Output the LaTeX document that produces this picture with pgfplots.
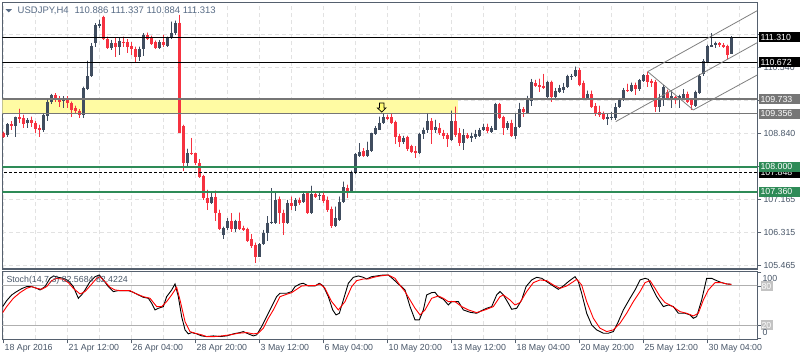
\documentclass[border=0pt]{standalone}
\usepackage{pgfplots}
\pgfplotsset{compat=1.18}
\usepackage{pgfplotstable}
\usepackage{fontspec}
\setmainfont{Liberation Sans}
\definecolor{bull}{RGB}{64,77,95}
\definecolor{bear}{RGB}{246,50,64}
\definecolor{gridc}{RGB}{226,226,226}
\definecolor{framec}{RGB}{85,96,110}
\definecolor{lbl}{RGB}{72,86,104}
\definecolor{hdr}{RGB}{88,108,134}
\definecolor{sgreen}{RGB}{46,139,87}
\definecolor{band}{RGB}{255,251,163}
\definecolor{lgrey}{RGB}{118,118,118}
\definecolor{chan}{RGB}{128,128,128}
\definecolor{stl}{RGB}{175,175,175}
\definecolor{stbox}{RGB}{195,195,195}
\newcommand\lf{\fontsize{8.8}{10}\selectfont}
\newcommand\hf{\fontsize{9.5}{11}\selectfont}
\pgfplotsset{candle/.style={only marks, mark=*, mark size=0.01pt, mark options={draw=none, fill=none}}}

\pgfplotstableread{
i o h l c
1 108.81 109.11 108.76 109.09
3 109.05 109.28 108.77 109.27
6 109.11 109.24 108.99 109.21
10 108.93 109.37 108.90 109.33
11 109.31 109.71 109.16 109.67
12 109.65 109.86 109.61 109.84
15 109.69 109.80 109.50 109.74
20 109.33 110.05 109.24 110.01
21 110.00 110.71 109.97 110.32
22 110.31 111.16 110.29 111.10
23 111.16 111.67 111.07 111.63
24 111.61 111.76 111.54 111.64
27 111.03 111.24 110.99 111.16
29 111.07 111.29 110.86 111.23
34 110.82 111.07 110.71 111.01
35 111.01 111.41 110.83 111.37
39 111.04 111.24 111.01 111.18
41 111.09 111.33 111.07 111.29
42 111.29 111.71 111.26 111.43
43 111.41 111.74 111.37 111.67
46 108.09 108.46 107.96 108.35
52 107.08 107.32 107.05 107.24
55 106.26 106.47 106.15 106.43
56 106.43 106.68 106.38 106.62
58 106.40 106.64 106.34 106.62
64 105.70 106.04 105.69 106.03
65 106.03 106.38 106.00 106.30
66 106.30 106.73 106.11 106.57
67 106.57 107.45 106.55 106.60
68 106.57 107.32 106.55 107.15
71 106.57 107.15 106.54 107.08
73 107.00 107.19 106.88 107.15
75 107.11 107.37 107.08 107.30
77 106.81 107.51 106.79 107.30
79 107.25 107.37 107.15 107.28
83 106.49 106.98 106.47 106.68
84 106.64 107.24 106.62 107.11
85 107.11 107.62 107.08 107.48
87 107.37 107.90 107.34 107.88
88 107.85 108.35 107.82 108.32
89 108.28 108.60 108.26 108.39
91 108.28 108.64 108.26 108.43
92 108.41 108.87 108.39 108.86
93 108.84 109.04 108.81 108.99
94 108.94 109.28 108.93 109.13
95 109.13 109.37 109.10 109.28
100 108.64 108.79 108.58 108.73
104 108.36 108.86 108.33 108.83
105 108.83 109.00 108.70 108.94
106 108.93 109.37 108.87 109.18
108 108.93 109.20 108.87 109.03
112 108.69 109.44 108.67 109.17
115 108.60 108.96 108.43 108.81
117 108.73 108.87 108.64 108.79
118 108.77 108.94 108.70 108.83
119 108.79 108.99 108.77 108.94
120 108.93 109.10 108.91 109.03
122 108.90 109.04 108.87 108.99
123 108.94 109.63 108.93 109.61
126 109.00 109.16 108.94 109.11
128 108.79 109.37 108.70 109.03
129 109.01 109.63 108.98 109.48
131 109.37 109.81 109.35 109.71
132 109.69 110.24 109.56 110.18
136 109.79 110.20 109.75 110.18
138 109.79 110.01 109.77 109.95
139 109.92 110.09 109.88 110.01
140 109.97 110.14 109.90 110.05
141 110.03 110.35 110.01 110.31
142 110.29 110.37 110.22 110.32
143 110.32 110.56 110.29 110.48
146 109.75 109.95 109.73 109.85
151 109.22 109.34 109.07 109.27
152 109.24 109.39 109.20 109.28
153 109.24 109.62 109.20 109.52
154 109.52 109.75 109.50 109.71
155 109.71 110.01 109.69 109.97
157 109.95 110.15 109.92 110.09
159 109.98 110.24 109.95 110.22
160 110.20 110.37 110.18 110.35
164 109.54 109.86 109.39 109.77
165 109.74 110.09 109.56 110.05
167 109.74 109.95 109.50 109.80
169 109.73 109.84 109.50 109.80
170 109.77 109.98 109.73 109.85
173 109.56 109.95 109.52 109.92
174 109.90 110.37 109.86 110.32
175 110.37 110.75 110.32 110.71
176 110.69 111.12 110.66 111.09
177 111.07 111.41 111.06 111.12
178 111.12 111.20 111.03 111.16
182 110.886 111.337 110.884 111.313
}\bulltab

\pgfplotstableread{
i o h l c
0 108.87 108.90 108.73 108.77
2 109.09 109.16 108.94 109.05
4 109.27 109.48 109.11 109.23
5 109.25 109.33 108.99 109.10
7 109.20 109.28 109.03 109.11
8 109.12 109.16 108.86 108.96
9 109.00 109.07 108.76 108.93
13 109.84 109.88 109.67 109.71
14 109.74 109.80 109.54 109.67
16 109.75 109.80 109.50 109.62
17 109.62 109.67 109.28 109.45
18 109.51 109.56 109.37 109.43
19 109.43 109.47 109.24 109.33
25 111.84 111.86 111.24 111.26
26 111.26 111.33 111.01 111.03
28 111.16 111.29 110.82 111.07
30 111.20 111.33 111.07 111.18
31 111.18 111.26 110.92 111.07
32 111.09 111.18 110.86 111.01
33 111.01 111.07 110.66 110.82
36 111.37 111.43 111.24 111.28
37 111.29 111.35 111.12 111.15
38 111.18 111.23 111.01 111.04
40 111.18 111.37 111.07 111.11
44 111.69 111.88 108.86 108.87
45 109.04 109.07 107.90 108.11
47 108.35 108.73 108.30 108.32
48 108.35 108.36 108.05 108.09
49 108.09 108.19 107.71 107.75
50 107.77 107.79 107.15 107.19
51 107.19 107.41 106.90 107.08
53 107.24 107.39 106.62 106.81
54 106.83 106.90 106.38 106.40
57 106.62 106.81 106.34 106.40
59 106.62 106.83 106.38 106.40
60 106.43 106.49 106.36 106.38
61 106.40 106.44 106.09 106.11
62 106.15 106.27 105.92 105.98
63 106.00 106.06 105.55 105.70
69 107.17 107.24 106.54 106.81
70 106.83 106.90 106.26 106.57
72 107.08 107.24 106.90 107.00
74 107.15 107.21 107.02 107.07
76 107.32 107.37 106.79 106.81
78 107.30 107.37 107.19 107.24
80 107.28 107.34 107.07 107.13
81 107.15 107.24 106.85 106.90
82 106.91 106.98 106.43 106.49
86 107.45 107.54 107.19 107.37
90 108.40 108.47 108.26 108.28
96 109.28 109.33 109.21 109.23
97 109.27 109.35 109.10 109.13
98 109.15 109.18 108.58 108.77
99 108.79 108.84 108.50 108.64
101 108.75 108.79 108.41 108.45
102 108.52 108.56 108.35 108.39
103 108.41 108.52 108.22 108.36
107 109.18 109.24 108.58 108.93
109 109.00 109.11 108.81 108.86
110 108.87 108.94 108.70 108.79
111 108.81 108.86 108.50 108.70
113 109.17 109.54 108.77 108.81
114 108.86 108.99 108.53 108.62
116 108.81 108.86 108.70 108.73
121 109.03 109.10 108.87 108.91
124 109.61 109.63 109.22 109.24
125 109.27 109.30 108.81 109.00
127 109.11 109.20 108.77 108.79
130 109.48 109.52 109.28 109.39
133 110.14 110.22 110.03 110.07
134 110.09 110.25 109.92 110.05
135 110.07 110.37 109.98 110.01
137 110.18 110.20 109.67 109.78
144 110.48 110.52 110.07 110.09
145 110.15 110.20 109.73 109.75
147 109.85 109.95 109.50 109.54
148 109.56 109.62 109.30 109.37
149 109.41 109.56 109.28 109.33
150 109.35 109.41 109.20 109.22
156 109.97 110.12 109.92 109.94
158 110.09 110.15 109.84 109.98
161 110.35 110.43 110.03 110.18
162 110.20 110.24 110.03 110.15
163 110.18 110.22 109.39 109.54
166 109.92 109.97 109.71 109.74
168 109.78 109.81 109.61 109.71
171 109.85 109.92 109.62 109.67
172 109.71 109.73 109.45 109.58
179 111.16 111.18 111.07 111.12
180 111.12 111.16 111.03 111.06
181 111.10 111.12 110.75 110.86
}\beartab

\pgfplotstableread{
x y
-0.16 48.5
0.84 57.6
2.09 66.3
3.34 71.4
4.59 75.9
5.84 79.0
7.09 79.0
8.34 76.4
9.18 73.9
10.43 79.0
11.68 91.7
12.51 95.3
13.76 93.2
15.01 91.7
16.26 88.1
17.51 79.0
18.76 61.2
19.59 66.3
20.43 73.9
21.68 86.6
22.93 94.2
24.01 96.8
25.01 89.2
26.26 79.0
27.51 71.4
28.76 72.9
30.01 72.9
31.26 72.9
32.51 70.3
33.76 66.3
35.01 62.7
36.26 61.2
37.09 53.6
37.93 43.4
38.76 45.9
40.01 48.5
40.84 63.7
42.09 73.9
42.93 83.1
43.76 63.7
44.59 33.2
45.43 12.9
46.26 6.8
47.09 8.8
48.34 6.8
49.59 3.7
50.84 2.7
52.51 3.7
54.18 2.7
55.84 3.7
57.51 6.8
59.18 8.8
60.01 10.3
61.26 6.8
62.51 3.7
63.34 5.3
64.59 18.0
65.84 33.2
67.09 48.5
68.34 63.7
69.18 68.8
70.84 68.8
72.09 71.4
72.93 79.0
74.18 83.1
75.01 84.1
76.26 80.0
77.93 80.0
79.01 84.1
80.01 80.0
81.26 63.7
82.34 43.4
83.18 35.8
84.01 38.3
85.01 58.6
86.26 84.1
87.51 93.2
88.76 95.3
90.01 93.2
90.84 90.7
92.09 94.2
93.34 95.3
95.01 96.8
96.26 96.8
97.51 90.2
98.76 83.0
99.6 79.0
100.43 73.9
101.68 48.5
102.93 28.1
104.01 28.1
105.01 43.4
105.84 66.3
107.09 69.8
107.93 70.3
108.76 63.7
110.01 59.7
111.26 51.0
112.09 56.1
113.76 56.1
115.01 43.4
116.68 39.8
118.34 38.3
119.59 42.4
120.84 45.9
122.09 48.5
123.34 66.3
124.18 71.4
125.01 66.3
126.26 53.6
127.09 44.4
128.34 45.9
129.59 58.6
130.68 79.0
132.09 89.2
133.34 93.2
134.59 91.7
135.84 86.6
137.09 81.5
138.76 74.9
140.01 80.0
141.26 86.6
142.93 94.2
143.76 86.6
144.59 68.8
145.84 38.3
147.09 20.5
148.34 12.9
150.01 7.8
151.26 7.8
152.51 10.3
153.76 25.6
155.01 43.4
156.68 61.2
157.93 73.9
159.18 89.2
160.43 91.7
161.26 90.2
162.09 79.0
163.34 63.7
165.01 48.5
166.26 51.0
167.51 48.5
168.76 38.3
170.43 38.3
171.68 35.8
172.51 30.7
173.34 33.2
174.59 58.6
175.84 91.7
177.09 91.7
178.34 88.1
179.59 85.1
180.84 83.1
182 82.57
}\stochK

\pgfplotstableread{
x y
-0.16 39.3
0.84 48.5
2.51 61.2
4.18 69.8
5.84 76.4
7.09 79.0
8.34 76.4
9.59 74.9
10.84 79.0
12.09 88.1
13.34 91.7
15.01 90.2
16.26 85.1
17.51 76.4
19.18 67.8
20.43 71.4
21.68 80.0
23.34 91.7
24.18 94.2
25.43 86.6
26.68 78.0
27.93 73.9
29.18 72.9
31.68 72.9
32.93 68.8
35.01 63.7
36.68 61.2
38.34 48.5
39.59 48.5
40.84 56.1
42.09 66.3
43.34 78.0
44.18 58.6
45.43 25.6
46.68 10.3
47.93 7.8
49.59 5.3
50.84 2.7
52.93 2.7
54.59 3.7
56.68 5.3
58.76 7.8
60.84 8.8
62.51 6.8
63.76 7.8
65.01 15.4
66.26 30.7
67.51 43.4
69.18 63.7
70.84 67.3
72.09 69.8
73.34 74.9
74.59 80.0
75.84 80.5
77.93 80.5
79.18 83.1
80.43 76.4
82.09 56.1
83.76 43.4
85.43 56.1
87.09 79.0
88.34 88.1
90.01 90.7
91.26 90.7
92.51 93.2
94.18 95.3
96.26 96.8
97.93 91.7
99.18 81.0
100.43 71.4
101.68 58.6
102.93 45.9
104.18 35.8
105.43 43.4
107.09 61.2
108.76 64.7
110.01 61.2
111.26 56.1
112.93 56.1
114.59 48.5
116.26 43.4
118.34 39.3
120.43 43.4
122.51 48.5
124.18 63.7
125.01 66.3
126.68 58.6
127.93 51.0
129.18 54.6
130.84 71.4
132.51 85.1
134.18 89.2
135.84 88.1
137.51 81.5
139.18 76.4
140.84 80.0
142.51 86.6
143.34 90.2
144.59 81.5
145.84 56.1
147.51 30.7
149.18 15.4
150.84 10.3
152.51 12.9
154.18 23.0
155.84 38.3
157.51 56.1
159.18 71.4
160.43 85.1
161.68 88.1
162.93 76.4
164.18 63.7
165.43 54.6
167.09 49.5
169.18 40.8
170.84 38.3
172.51 34.2
173.76 38.3
175.01 58.6
176.26 73.9
177.93 85.1
179.59 85.1
180.84 83.1
182 82.42
}\stochD

\begin{document}
\begin{tikzpicture}
\path[use as bounding box] (0pt,0pt) rectangle (800pt,360pt);
\fill[white] (0pt,0pt) rectangle (800pt,360pt);

% ---------------- main price panel ----------------
\begin{axis}[name=main, at={(2.3pt,91pt)}, anchor=south west, scale only axis,
  width=755pt, height=266.7pt,
  xmin=-0.25, xmax=188.5, ymin=105.387, ymax=112.207,
  axis line style={draw=framec, line width=1.2pt},
  xtick={0,16,...,176}, minor xtick={8,24,...,184}, xticklabels={},
  ytick={105.47,106.315,107.16,108.004,108.85,109.69,110.54,111.39}, yticklabels={},
  ytick pos=right, tick align=outside, major tick length=4pt, minor tick length=0pt,
  xtick style={draw=none},
  ytick style={draw=framec, line width=0.8pt},
  grid=both,
  major grid style={gridc, dash pattern=on 4pt off 3pt, line width=0.8pt},
  minor grid style={gridc, dash pattern=on 4pt off 3pt, line width=0.8pt},
  clip=true]

\fill[band] (axis cs:-1,109.356) rectangle (axis cs:113.7,109.733);

% wicks
\addplot[bull, candle, error bars/.cd, y dir=minus, y explicit,
  error mark=none, error bar style={line width=1pt, bull}]
  table[x=i, y=h, y error expr=\thisrow{h}-\thisrow{l}] {\bulltab};
\addplot[bear, candle, error bars/.cd, y dir=minus, y explicit,
  error mark=none, error bar style={line width=1pt, bear}]
  table[x=i, y=h, y error expr=\thisrow{h}-\thisrow{l}] {\beartab};
% bodies
\addplot[bull, candle, error bars/.cd, y dir=minus, y explicit,
  error mark=none, error bar style={line width=3pt, bull, line cap=butt}]
  table[x=i, y=c, y error expr=\thisrow{c}-\thisrow{o}] {\bulltab};
\addplot[bear, candle, error bars/.cd, y dir=minus, y explicit,
  error mark=none, error bar style={line width=3pt, bear, line cap=butt}]
  table[x=i, y=o, y error expr=\thisrow{o}-\thisrow{c}] {\beartab};

% horizontal levels
\draw[black, line width=1.3pt] (axis cs:-1,111.31) -- (axis cs:190,111.31);
\draw[black, line width=1.3pt] (axis cs:-1,110.672) -- (axis cs:190,110.672);
\draw[lgrey, line width=1.2pt] (axis cs:-1,109.733) -- (axis cs:190,109.733);
\draw[lgrey, line width=1.2pt] (axis cs:-1,109.356) -- (axis cs:190,109.356);
\draw[sgreen, line width=2.6pt] (axis cs:-1,108.0) -- (axis cs:190,108.0);
\draw[black, line width=1.1pt, dash pattern=on 3pt off 2pt] (axis cs:-1,107.848) -- (axis cs:190,107.848);
\draw[sgreen, line width=2.6pt] (axis cs:-1,107.36) -- (axis cs:190,107.36);

% channel
\addplot[chan, line width=0.8pt] coordinates {(161.1,110.434) (188.5,111.994)};
\addplot[chan, line width=0.8pt] coordinates {(153.1,109.155) (188.5,111.176)};
\addplot[chan, line width=0.8pt] coordinates {(172.5,109.454) (188.5,110.349)};
\addplot[chan, line width=0.8pt] coordinates {(161.1,110.434) (172.5,109.454)};

\coordinate (arr) at (axis cs:94.6,109.40);
\coordinate (b1) at (axis cs:188.5,111.31);
\coordinate (b2) at (axis cs:188.5,110.672);
\coordinate (b3) at (axis cs:188.5,109.733);
\coordinate (b4) at (axis cs:188.5,109.356);
\coordinate (b5) at (axis cs:188.5,108.0);
\coordinate (b6) at (axis cs:188.5,107.848);
\coordinate (b7) at (axis cs:188.5,107.36);
\coordinate (t1) at (axis cs:188.5,105.47);
\coordinate (t2) at (axis cs:188.5,106.315);
\coordinate (t3) at (axis cs:188.5,107.16);
\coordinate (t4) at (axis cs:188.5,108.85);
\coordinate (t5) at (axis cs:188.5,110.54);
\end{axis}

% ---------------- stochastic panel ----------------
\begin{axis}[name=stoch, at={(2.3pt,20.7pt)}, anchor=south west, scale only axis,
  width=755pt, height=67.6pt,
  xmin=-0.25, xmax=188.5, ymin=-1.5, ymax=101.8,
  axis line style={draw=framec, line width=1.2pt},
  xtick={0,16,...,176}, minor xtick={8,24,...,184},
  xticklabels={18 Apr 2016, 21 Apr 12:00, 26 Apr 04:00, 28 Apr 20:00, 3 May 12:00, 6 May 04:00, 10 May 20:00, 13 May 12:00, 18 May 04:00, 20 May 20:00, 25 May 12:00, 30 May 04:00},
  xticklabel style={anchor=north west, font=\lf, text=lbl, inner sep=0pt, xshift=1.2pt, yshift=-1pt},
  xtick pos=left,
  ytick={0,20,80,100}, yticklabels={}, ytick pos=right,
  tick align=outside, major tick length=4pt, minor tick length=0pt,
  tick style={draw=framec, line width=0.8pt},
  xmajorgrids, xminorgrids,
  major grid style={gridc, dash pattern=on 4pt off 3pt, line width=0.8pt},
  minor grid style={gridc, dash pattern=on 4pt off 3pt, line width=0.8pt},
  clip=true]
\draw[stl, line width=1pt] (axis cs:-1,80) -- (axis cs:190,80);
\draw[stl, line width=1pt] (axis cs:-1,20) -- (axis cs:190,20);
\addplot[black, line width=0.9pt, mark=none] table[x=x, y=y] {\stochK};
\addplot[red, line width=0.9pt, mark=none] table[x=x, y=y] {\stochD};
\coordinate (s100) at (axis cs:188.5,100);
\coordinate (s80) at (axis cs:188.5,80);
\coordinate (s20) at (axis cs:188.5,20);
\coordinate (s0) at (axis cs:188.5,0);
\coordinate (stit) at (rel axis cs:0,1);
\end{axis}

% ---------------- annotations ----------------
\draw[black, fill=band!70!yellow, line width=0.7pt] (arr) -- ++(-4.2pt,4pt) -- ++(1.9pt,0pt) -- ++(0pt,5pt) -- ++(4.6pt,0pt) -- ++(0pt,-5pt) -- ++(1.9pt,0pt) -- cycle;

\tikzset{lab/.style={anchor=west, font=\lf, text=lbl, inner sep=0pt}}
\node[lab] at ([xshift=6pt]t1) {105.465};
\node[lab] at ([xshift=6pt]t2) {106.315};
\node[lab] at ([xshift=6pt]t3) {107.165};
\node[lab] at ([xshift=6pt]t4) {108.840};
\node[lab] at ([xshift=6pt]t5) {110.540};

\tikzset{box/.style={anchor=west, font=\lf, text=white, inner xsep=2pt, inner ysep=0pt, minimum height=10pt, text width=38pt, align=left}}
\node[box, fill=black] at ([xshift=1pt]b1) {111.310};
\node[box, fill=black] at ([xshift=1pt]b2) {110.672};
\node[box, fill=lgrey] at ([xshift=1pt]b3) {109.733};
\node[box, fill=lgrey] at ([xshift=1pt]b4) {109.356};
\node[box, fill=black] at ([xshift=1pt]b6) {107.848};
\node[box, fill=sgreen] at ([xshift=1pt]b5) {108.000};
\node[box, fill=sgreen] at ([xshift=1pt]b7) {107.360};

% stochastic scale labels
\node[lab] at ([xshift=5pt,yshift=-5.5pt]s100) {100};
\node[box, fill=stbox, text width=10pt, inner xsep=1pt] at ([xshift=3pt]s80) {80};
\node[box, fill=stbox, text width=10pt, inner xsep=1pt] at ([xshift=3pt]s20) {20};
\node[lab] at ([xshift=5pt,yshift=-7.5pt]s20) {0};

% titles
\node[anchor=west, font=\lf, text=lbl, inner sep=0pt] at ([xshift=4pt,yshift=-8.5pt]stit) {Stoch(14,7,3) 82.5684 82.4224};
\fill[hdr] (5.5pt,350.8pt) -- (11.8pt,350.8pt) -- (8.65pt,347.6pt) -- cycle;
\node[anchor=west, font=\hf, text=hdr, inner sep=0pt] at (17.5pt,349.5pt) {USDJPY,H4\hspace{6pt}110.886 111.337 110.884 111.313};
\end{tikzpicture}
\end{document}
